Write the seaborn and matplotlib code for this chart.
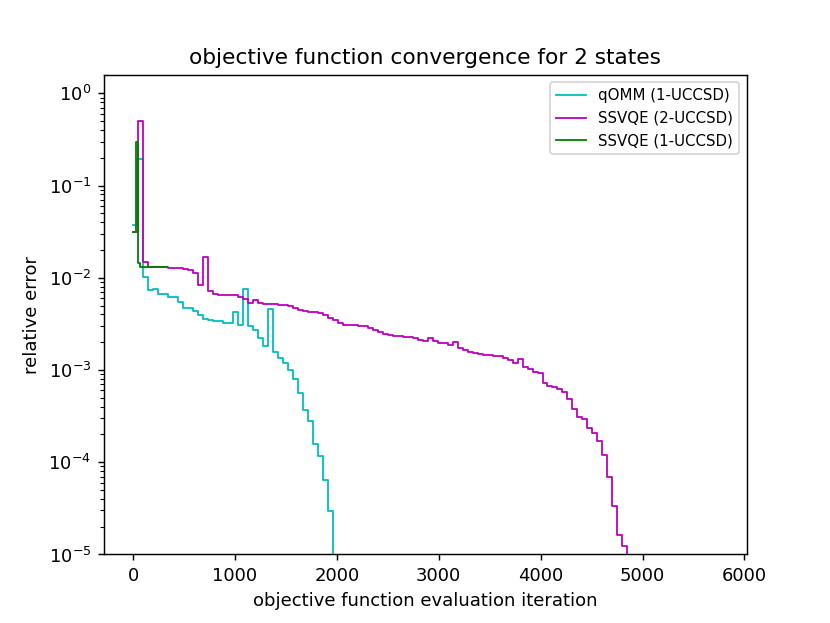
import numpy as np
import pandas as pd
import matplotlib
matplotlib.use("Agg")
import matplotlib.pyplot as plt
import seaborn as sns

STEP = 49  # objective function evaluations per optimizer iteration

# qOMM (1-UCCSD)
qomm_x = [0, 40] + [STEP * k for k in range(2, 42)]
qomm_y = [0.0378, 0.192, 0.0102, 0.00731, 0.00763, 0.00674, 0.00674, 0.00619,
          0.00619, 0.00546, 0.00470, 0.00470, 0.00436, 0.00392, 0.00361, 0.00346,
          0.00337, 0.00337, 0.00323, 0.00323, 0.00425, 0.00305, 0.00750, 0.00297,
          0.00269, 0.00222, 0.00180, 0.00455, 0.00156, 0.00134, 0.00118, 0.00100,
          0.000804, 0.000567, 0.000373, 0.000277, 0.000156, 0.000118, 0.0000649,
          0.0000299, 0.000005, 0.000005]

# SSVQE (2-UCCSD)
ss2_y = [0.0314, 0.500, 0.01484, 0.01310, 0.01310, 0.01310, 0.01310, 0.01284,
         0.01284, 0.01284, 0.01237, 0.01206, 0.01139, 0.00844, 0.01681, 0.00719,
         0.00674, 0.00657, 0.00646, 0.00646, 0.00646, 0.00619, 0.00584, 0.00538,
         0.00580, 0.00538, 0.00525, 0.00525, 0.00525, 0.00512, 0.00512, 0.00494,
         0.00475, 0.00452, 0.00436, 0.00425, 0.00425, 0.00415, 0.00398, 0.00370,
         0.00346, 0.00323, 0.00310, 0.00307, 0.00305, 0.00303, 0.00300, 0.00288,
         0.00274, 0.00258, 0.00248, 0.00237, 0.00233, 0.00233, 0.00228, 0.00228,
         0.00222, 0.00213, 0.00208, 0.00220, 0.00204, 0.00198, 0.00198, 0.00185,
         0.00201, 0.00175, 0.00163, 0.00156, 0.00153, 0.00148, 0.00147, 0.00147,
         0.00143, 0.00143, 0.00136, 0.00129, 0.00119, 0.00131, 0.00108, 0.00102,
         0.000961, 0.000919, 0.000715, 0.000672, 0.000652, 0.000627, 0.000571,
         0.000491, 0.000380, 0.000308, 0.000296, 0.000234, 0.000206, 0.000168,
         0.000120, 0.0000699, 0.0000339, 0.0000164, 0.0000125, 0.0000045,
         0.0000045]
ss2_x = [STEP * k for k in range(len(ss2_y))]

# SSVQE (1-UCCSD)
ss1_x = [0, 29, 49, 72, 334]
ss1_y = [0.0314, 0.294, 0.0145, 0.0131, 0.0131]

labels = ["qOMM (1-UCCSD)", "SSVQE (2-UCCSD)", "SSVQE (1-UCCSD)"]
colors = ["c", "m", "g"]

fig, ax = plt.subplots(figsize=(830 / 130, 623 / 130), dpi=130)

for xs, ys, lab, col in zip([qomm_x, ss2_x, ss1_x], [qomm_y, ss2_y, ss1_y], labels, colors):
    df = pd.DataFrame({"x": xs, "y": ys})
    sns.lineplot(data=df, x="x", y="y", ax=ax, drawstyle="steps-post",
                 color=col, lw=1, label=lab, estimator=None, sort=False)

ax.set_yscale("log")
ax.set_ylim(1e-5, 1.59)
ax.set_xlim(-288, 6025)
ax.set_xticks([0, 1000, 2000, 3000, 4000, 5000, 6000])
ax.set_xlabel("objective function evaluation iteration")
ax.set_ylabel("relative error")
ax.set_title("objective function convergence for 2 states")
ax.legend(loc="upper right", fontsize="small")

fig.savefig("out.png", dpi=130)
